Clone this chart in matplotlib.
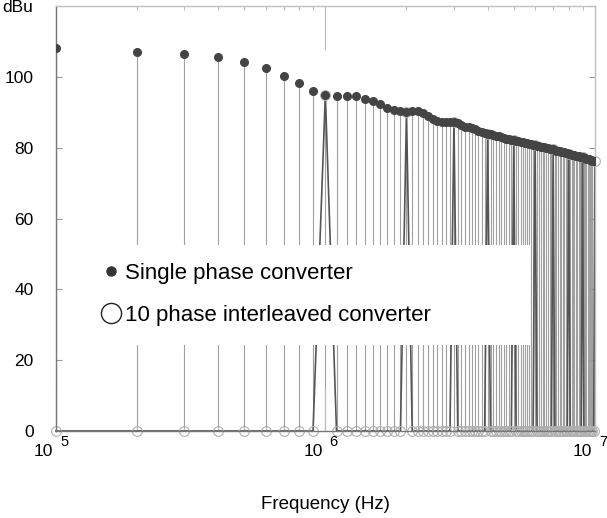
import numpy as np
import matplotlib
matplotlib.use("Agg")
import matplotlib.pyplot as plt
from matplotlib.lines import Line2D
from matplotlib.patches import Rectangle
from matplotlib.ticker import FixedLocator, LogLocator, NullFormatter

plt.rcParams['font.family'] = ['Liberation Sans', 'DejaVu Sans']

# harmonic order of the 100 kHz switching frequency
harmonic = np.arange(1, 101)
freq = harmonic * 1e5

# single phase converter spectrum (dBu)
single = [108.3, 107.2, 106.6, 105.6, 104.2, 102.5, 100.4, 98.3, 96.1, 95.0,
          94.6, 94.6, 94.6, 93.9, 93.2, 92.4, 91.3, 90.7, 90.4, 90.2,
          90.3, 90.3, 89.9, 89.0, 88.2, 87.6, 87.4, 87.4, 87.3, 87.4,
          87.0, 86.5, 86.0, 85.8, 85.6, 85.3, 84.8, 84.5, 84.2, 84.0,
          83.8, 83.6, 83.4, 83.2, 83.0, 82.8, 82.6, 82.4, 82.3, 82.2,
          82.0, 81.8, 81.6, 81.5, 81.4, 81.3, 81.2, 81.0, 80.9, 80.8,
          80.6, 80.4, 80.3, 80.2, 80.1, 80.0, 79.9, 79.8, 79.7, 79.6,
          79.4, 79.2, 79.1, 79.0, 78.9, 78.8, 78.7, 78.5, 78.4, 78.3,
          78.2, 78.1, 78.0, 77.9, 77.8, 77.7, 77.6, 77.5, 77.4, 77.3,
          77.2, 77.0, 76.9, 76.8, 76.7, 76.6, 76.5, 76.4, 76.3, 76.2]

# 10 phase interleaved converter: only every 10th harmonic remains
interleaved = [0, 0, 0, 0, 0, 0, 0, 0, 0, 95.0,
               0, 0, 0, 0, 0, 0, 0, 0, 0, 90.2,
               0, 0, 0, 0, 0, 0, 0, 0, 0, 87.4,
               0, 0, 0, 0, 0, 0, 0, 0, 0, 84.0,
               0, 0, 0, 0, 0, 0, 0, 0, 0, 82.2,
               0, 0, 0, 0, 0, 0, 0, 0, 0, 80.8,
               0, 0, 0, 0, 0, 0, 0, 0, 0, 79.6,
               0, 0, 0, 0, 0, 0, 0, 0, 0, 78.3,
               0, 0, 0, 0, 0, 0, 0, 0, 0, 77.3,
               0, 0, 0, 0, 0, 0, 0, 0, 0, 76.2]

yticks = [0, 20, 40, 60, 80, 100, 120]
ylabels = ['0', '20', '40', '60', '80', '100', 'dBu']
xticks = [1e5, 1e6, 1e7]
xexp = ['5', '6', '7']

fig = plt.figure(figsize=(6.07, 5.18), dpi=100)
ax = fig.add_axes([0.092, 0.168, 0.888, 0.820])

ax.vlines(freq, 0, single, color='#a0a0a0', lw=0.8, zorder=1)
ax.plot(freq, interleaved, color='#555555', lw=1.2, marker='o', ms=7,
        mfc='none', mec='#b0b0b0', mew=0.8, zorder=2, clip_on=False)
ax.plot(freq, single, ls='none', marker='o', ms=5.5, color='#444444', zorder=3)

ax.set_xscale('log')
ax.set_xlim(1e5, 1e7)
ax.set_ylim(0, 120)

ax.xaxis.set_major_locator(FixedLocator(xticks))
ax.xaxis.set_major_formatter(NullFormatter())
ax.xaxis.set_minor_locator(LogLocator(base=10, subs=np.arange(2, 10)))
ax.xaxis.set_minor_formatter(NullFormatter())
ax.set_yticks(yticks)
ax.set_yticklabels(ylabels, fontsize=12.5)

# "10 ^n" tick labels, written as base + raised exponent
for f, e in zip(xticks, xexp):
    ax.annotate('10', xy=(f, 0), xycoords=('data', 'axes fraction'),
                xytext=(-2, -14.5), textcoords='offset points',
                ha='right', va='center', fontsize=12.5)
    ax.annotate(e, xy=(f, 0), xycoords=('data', 'axes fraction'),
                xytext=(3, -8), textcoords='offset points',
                ha='left', va='center', fontsize=10.5)

ax.tick_params(axis='x', which='major', direction='in', top=True, length=32,
               width=0.8, color='#bbbbbb')
ax.tick_params(axis='x', which='minor', direction='in', top=True, length=3,
               width=0.8, color='#bbbbbb')
ax.tick_params(axis='y', direction='in', right=True, length=4, width=0.8,
               color='#999999', pad=16)

ax.spines['left'].set_color('#777777')
ax.spines['bottom'].set_color('#777777')
ax.spines['top'].set_color('#c0c0c0')
ax.spines['right'].set_color('#c0c0c0')
for s in ax.spines.values():
    s.set_linewidth(1.0)

ax.set_xlabel('Frequency (Hz)', fontsize=13.5, labelpad=43)

# white legend panel over the stems
ax.add_patch(Rectangle((0.072, 0.202), 0.807, 0.236, transform=ax.transAxes,
                       facecolor='white', edgecolor='none', zorder=4))
handles = [Line2D([], [], ls='none', marker='o', ms=6.5, color='#333333'),
           Line2D([], [], ls='none', marker='o', ms=14.5, mfc='white', mec='#222222', mew=1.0)]
leg = ax.legend(handles, ['Single phase converter', '10 phase interleaved converter'],
                loc='upper left', bbox_to_anchor=(0.072, 0.416), frameon=False,
                fontsize=16, handlelength=0.7, handletextpad=0.25,
                labelspacing=0.92, borderaxespad=0)
leg.set_zorder(5)

fig.savefig('out.png', dpi=100)
